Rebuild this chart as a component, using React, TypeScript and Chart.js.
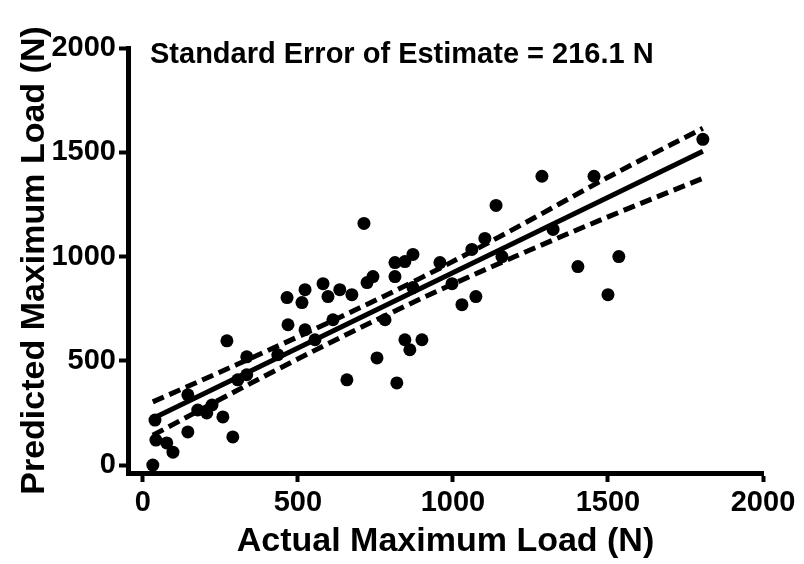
import React, { useEffect, useRef } from "react";
import { Chart, registerables } from "chart.js";

Chart.register(...registerables);

// Scatter data: actual (x) vs predicted (y) maximum load, N
const actualLoad = [
  32, 39, 42, 77, 97, 145, 145, 177, 206, 223, 258, 271, 290, 306, 335, 335, 435,
  465, 468, 513, 523, 523, 555, 581, 597, 613, 635, 674, 658, 713, 723, 742, 755,
  781, 813, 813, 819, 845, 845, 861, 871, 871, 900, 958, 997, 1029, 1061, 1074,
  1103, 1139, 1158, 1287, 1323, 1403, 1455, 1500, 1535, 1806,
];
const predictedLoad = [
  0, 216, 120, 106, 62, 159, 337, 264, 250, 288, 231, 596, 135, 409, 433, 519, 529,
  803, 673, 779, 841, 649, 601, 870, 808, 697, 841, 817, 409, 1159, 875, 904, 514,
  697, 971, 904, 394, 976, 601, 553, 1010, 851, 601, 971, 870, 769, 1034, 808,
  1087, 1245, 1000, 1385, 1130, 952, 1385, 817, 1000, 1562,
];

// Regression line end points
const fitX = [32, 1806];
const fitY = [223, 1505];

// 95% confidence band
const bandX = [32, 300, 600, 900, 1200, 1500, 1806];
const bandUpper = [303, 480, 684, 900, 1135, 1380, 1615];
const bandLower = [143, 355, 584, 800, 1000, 1190, 1375];

const tickValues = [0, 500, 1000, 1500, 2000];

const xTitle = "Actual Maximum Load (N)";
const yTitle = "Predicted Maximum Load (N)";
const annotation = "Standard Error of Estimate = 216.1 N";

const FONT = '"Liberation Sans", Arial, sans-serif';

export default function App() {
  const ref = useRef<HTMLCanvasElement | null>(null);

  useEffect(() => {
    if (!ref.current) return;
    const toPts = (xs: number[], ys: number[]) => xs.map((x, i) => ({ x, y: ys[i] }));

    const annotationPlugin = {
      id: "seeText",
      afterDraw(chart: any) {
        const ctx = chart.ctx;
        ctx.save();
        ctx.font = `bold 29px ${FONT}`;
        ctx.fillStyle = "#000";
        ctx.textBaseline = "alphabetic";
        ctx.textAlign = "left";
        ctx.fillText(annotation, 150, 63);
        ctx.restore();
      },
    };

    const plainLabel = (v: any) => String(v);

    const chart = new Chart(ref.current, {
      type: "scatter",
      data: {
        datasets: [
          {
            label: "Upper 95% CI",
            data: toPts(bandX, bandUpper),
            showLine: true,
            borderColor: "#000",
            borderWidth: 5,
            borderDash: [12, 6],
            pointRadius: 0,
            tension: 0.4,
            cubicInterpolationMode: "monotone",
          },
          {
            label: "Lower 95% CI",
            data: toPts(bandX, bandLower),
            showLine: true,
            borderColor: "#000",
            borderWidth: 5,
            borderDash: [12, 6],
            pointRadius: 0,
            tension: 0.4,
            cubicInterpolationMode: "monotone",
          },
          {
            label: "Fit",
            data: toPts(fitX, fitY),
            showLine: true,
            borderColor: "#000",
            borderWidth: 5,
            pointRadius: 0,
          },
          {
            label: "Data",
            data: toPts(actualLoad, predictedLoad),
            backgroundColor: "#000",
            borderColor: "#000",
            borderWidth: 0,
            pointRadius: 6.5,
            pointStyle: "circle",
          },
        ],
      },
      options: {
        animation: false,
        responsive: false,
        devicePixelRatio: 1,
        layout: { padding: { top: 48, right: 41, left: 0, bottom: 0 } },
        plugins: {
          legend: { display: false },
          tooltip: { enabled: false },
        },
        scales: {
          x: {
            type: "linear",
            min: -48,
            max: 2000,
            afterBuildTicks: (scale: any) => {
              scale.ticks = tickValues.map((v) => ({ value: v }));
            },
            afterFit: (scale: any) => {
              scale.height = 91;
            },
            border: { display: true, color: "#000", width: 5 },
            grid: {
              display: true,
              drawOnChartArea: false,
              drawTicks: true,
              tickLength: 9,
              tickColor: "#000",
              tickWidth: 4,
            },
            ticks: {
              color: "#000",
              font: { family: FONT, size: 29, weight: "bold" },
              padding: 4,
              maxRotation: 0,
              callback: plainLabel,
            },
            title: {
              display: true,
              text: xTitle,
              color: "#000",
              font: { family: FONT, size: 34, weight: "bold" },
              padding: { top: 0, bottom: 2 },
            },
          },
          y: {
            type: "linear",
            min: -38,
            max: 2000,
            afterBuildTicks: (scale: any) => {
              scale.ticks = tickValues.map((v) => ({ value: v }));
            },
            afterFit: (scale: any) => {
              scale.width = 128;
            },
            border: { display: true, color: "#000", width: 5 },
            grid: {
              display: true,
              drawOnChartArea: false,
              drawTicks: true,
              tickLength: 9,
              tickColor: "#000",
              tickWidth: 4,
            },
            ticks: {
              color: "#000",
              font: { family: FONT, size: 29, weight: "bold" },
              padding: 3,
              callback: plainLabel,
            },
            title: {
              display: true,
              text: yTitle,
              color: "#000",
              font: { family: FONT, size: 34, weight: "bold" },
              padding: { top: 14, bottom: 0 },
            },
          },
        },
      },
      plugins: [annotationPlugin],
    } as any);

    return () => chart.destroy();
  }, []);

  return (
    <div style={{ position: "fixed", left: 0, top: 0, width: 804, height: 564, background: "#fff" }}>
      <canvas ref={ref} width={804} height={564} />
    </div>
  );
}
